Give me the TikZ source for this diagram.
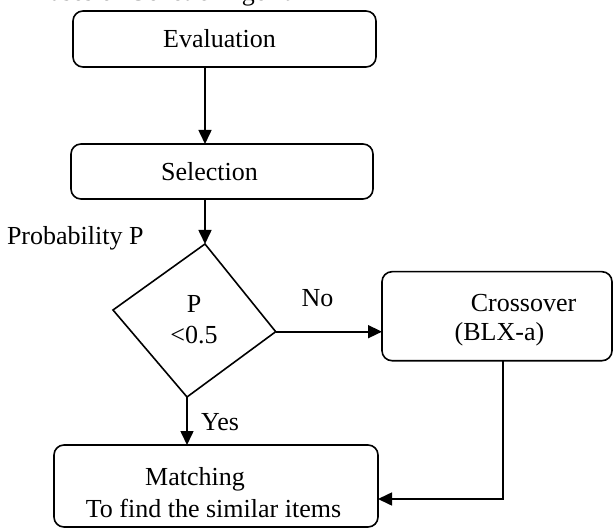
\documentclass[tikz,border=0pt]{standalone}
\usepackage{fontspec}
\setmainfont{Liberation Serif}
\usetikzlibrary{arrows.meta,calc}

\begin{document}
\begin{tikzpicture}[
  x=1pt, y=-1pt,
  every node/.style={font=\fontsize{26}{31}\selectfont, inner sep=0pt, outer sep=0pt},
  procbox/.style={draw, line width=1.6pt, rounded corners=10pt},
  txt/.style={anchor=base},
  arr/.style={line width=1.6pt, -{Triangle[length=14pt,width=13pt]}},
  link/.style={line width=1.6pt},
]
\useasboundingbox (0,0) rectangle (613,529);
\clip (0,0) rectangle (613,529);

% heading, cut at the top edge
\node[anchor=base west] (head) at (23,0.8) {Phases of Genetic Algorithm};

% process boxes
\node[procbox, minimum width=303pt, minimum height=56pt] (eval)  at (224.5,39) {};
\node[procbox, minimum width=302pt, minimum height=55pt] (sel)   at (222,171.5) {};
\node[procbox, minimum width=230pt, minimum height=89pt] (cross) at (497,316.2) {};
\node[procbox, minimum width=324pt, minimum height=82pt] (match) at (216,486) {};

% box texts
\node[txt] (evaltxt)  at (219.5,48)  {Evaluation};
\node[txt] (seltxt)   at (209.5,181) {Selection};
\node[txt] (crosstxt) at (523.5,312) {Crossover};
\node[txt] (blxtxt)   at (499.5,341) {(BLX-a)};
\node[txt] (matchtxt) at (195,485)   {Matching};
\node[txt] (findtxt)  at (213.5,517) {To find the similar items};

% decision shape
\coordinate (dtop)   at (205,244);
\coordinate (dright) at (275.7,331.7);
\coordinate (dbot)   at (187,397);
\coordinate (dleft)  at (113,310);
\draw[link, line join=miter] (dtop) -- (dright) -- (dbot) -- (dleft) -- cycle;
\node[align=center] (dec) at (194,320) {P\\<0.5};

% side labels
\node[anchor=base west] (prob) at (7,245) {Probability P};
\node[txt] (no)  at (317.5,307) {No};
\node[txt] (yes) at (220,430)   {Yes};

% connectors
\draw[arr] (eval.south -| dtop) -- (sel.north -| dtop);
\draw[arr] (sel.south -| dtop) -- (dtop);
\draw[arr] (dright) -- (cross.west |- dright);
\draw[arr] (dbot) -- (match.north -| dbot);
\coordinate (bend) at (503,499);
\draw[arr] (cross.south -| bend) -- (bend) -- (match.east |- bend);
\end{tikzpicture}
\end{document}
